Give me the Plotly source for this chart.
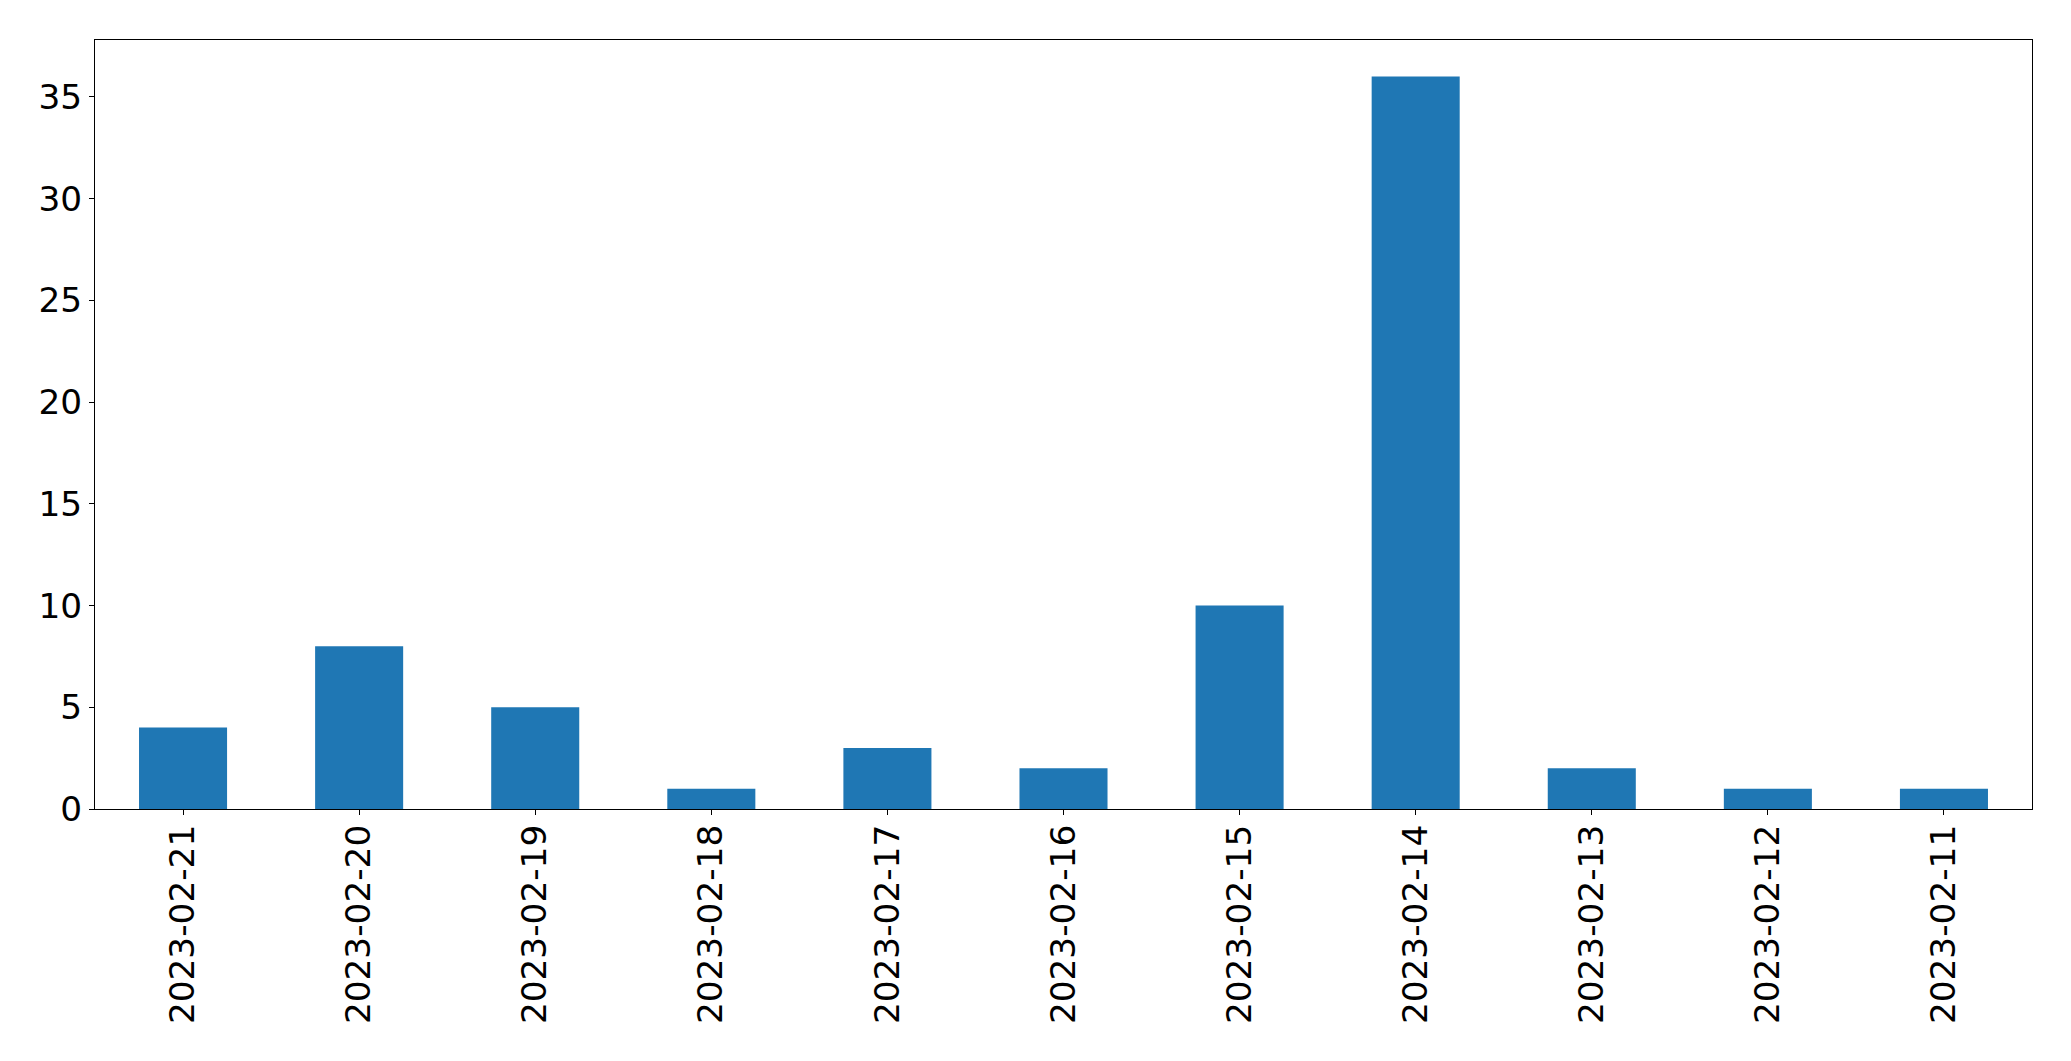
import plotly.graph_objects as go

dates = ["2023-02-21", "2023-02-20", "2023-02-19", "2023-02-18", "2023-02-17",
         "2023-02-16", "2023-02-15", "2023-02-14", "2023-02-13", "2023-02-12",
         "2023-02-11"]
counts = [4, 8, 5, 1, 3, 2, 10, 36, 2, 1, 1]
y_ticks = [0, 5, 10, 15, 20, 25, 30, 35]

fig = go.Figure(go.Bar(x=dates, y=counts, width=0.5, marker=dict(color="#1f77b4", line=dict(width=0))))

font = dict(family="DejaVu Sans", size=34.3, color="black")
fig.update_layout(
    width=2063, height=1053,
    margin=dict(l=86.5, r=39.3, t=31.5, b=252, pad=0),
    plot_bgcolor="white", paper_bgcolor="white",
    showlegend=False, font=font,
)
fig.update_xaxes(
    type="category", range=[-0.5, 10.5], tickangle=-90,
    showline=True, linecolor="black", linewidth=1.1, mirror=True,
    ticks="outside", ticklen=5, tickwidth=1.1, tickcolor="black",
    showgrid=False, zeroline=False, tickfont=font, ticklabelstandoff=-4,
)
fig.update_yaxes(
    range=[0, 37.8], tickvals=y_ticks,
    showline=True, linecolor="black", linewidth=1.1, mirror=True,
    ticks="outside", ticklen=5, tickwidth=1.1, tickcolor="black",
    showgrid=False, zeroline=False, tickfont=font, ticklabelstandoff=0,
)
fig.write_html("out.html")
